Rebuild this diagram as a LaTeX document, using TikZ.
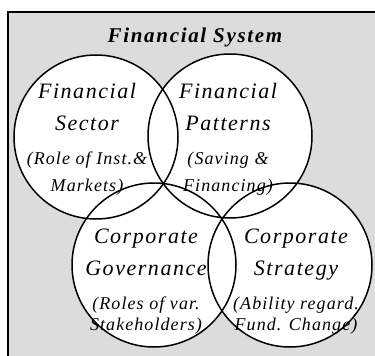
\documentclass[tikz,border=0pt]{standalone}
\usepackage{fontspec}
\setmainfont{Liberation Serif}
\usetikzlibrary{backgrounds}
\definecolor{boxgray}{HTML}{DCDCDC}
\newcommand\venntitle{\fontsize{21}{24}\selectfont\bfseries\itshape\addfontfeature{LetterSpace=8}}
\newcommand\vennmain{\fontsize{22}{32}\selectfont\itshape\addfontfeature{LetterSpace=7}}
\newcommand\vennsub{\fontsize{18}{23}\selectfont\itshape\addfontfeature{LetterSpace=6}}
\tikzset{
  venn/.style={circle, draw, line width=1.5pt, minimum size=164pt, inner sep=0pt},
  venntext/.style={align=center, font=\vennmain, inner sep=0pt, anchor=north}
}

\begin{document}
\begin{tikzpicture}[x=1pt,y=-1pt]
   \useasboundingbox (0,0) rectangle (375,356);
   % circles
   \node[venn] (fs) at (96,137) {};
   \node[venn] (fp) at (230,136) {};
   \node[venn] (cg) at (154,265) {};
   \node[venn] (cs) at (290,265) {};
   \begin{scope}[on background layer]
   \fill[boxgray] (8,11.5) rectangle (375,356);
   \foreach \c in {fs,fp,cg,cs}
      \fill[white] (\c.center) circle (82);
   \draw[line width=2pt] (8,356) -- (8,11.5) -- (375,11.5);
   \end{scope}
   % texts
   \node[font=\venntitle, anchor=base] (title) at (195,42) {Financial System};
   \node[venntext] (fstxt) at (87,83) {Financial\\Sector\\[2pt]{\vennsub(Role of Inst.\&}\\[-5pt]{\vennsub Markets)}};
   \node[venntext] (fptxt) at (228,83) {Financial\\Patterns\\[2pt]{\vennsub(Saving \&}\\[-5pt]{\vennsub Financing)}};
   \node[venntext] (cgtxt) at (146,229) {Corporate\\Governance\\[2pt]{\vennsub(Roles of var.}\\[-11pt]{\vennsub Stakeholders)}};
   \node[venntext] (cstxt) at (296,229) {Corporate\\Strategy\\[2pt]{\vennsub(Ability regard.}\\[-11pt]{\vennsub Fund. Change)}};
\end{tikzpicture}
\end{document}
